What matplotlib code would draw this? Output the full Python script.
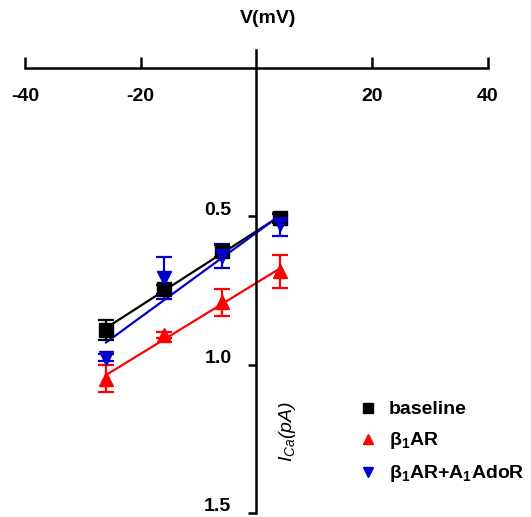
import numpy as np
import matplotlib
matplotlib.use("Agg")
import matplotlib.pyplot as plt
import matplotlib.transforms as mtransforms
from matplotlib.lines import Line2D

plt.rcParams['font.family'] = ['Liberation Sans', 'DejaVu Sans']
plt.rcParams['mathtext.fontset'] = 'custom'
plt.rcParams['mathtext.rm'] = 'Liberation Sans:bold'
plt.rcParams['mathtext.it'] = 'Liberation Sans:italic'
plt.rcParams['mathtext.bf'] = 'Liberation Sans:bold'

# Test potentials (mV)
voltage = [-26, -16, -6, 4]

# Peak I_Ca (pA) with SEM
baseline = [0.883, 0.745, 0.617, 0.507]
baseline_err = [0.035, 0.015, 0.02, 0.015]
b1ar = [1.047, 0.900, 0.790, 0.685]
b1ar_err = [0.045, 0.01, 0.045, 0.055]
b1ar_a1 = [0.977, 0.708, 0.634, 0.527]
b1ar_a1_err = [0.012, 0.07, 0.04, 0.04]

series = [
    ("baseline", baseline, baseline_err, "#000000", "s"),
    ("β$_1$AR", b1ar, b1ar_err, "#ff0000", "^"),
    ("β$_1$AR+A$_1$AdoR", b1ar_a1, b1ar_a1_err, "#0000c8", "v"),
]

x_ticks = [-40, -20, 20, 40]
y_ticks = [0.5, 1.0, 1.5]
y_tick_labels = ["0.5", "1.0", "1.5"]

FS = 14

fig = plt.figure(figsize=(5.31, 5.17), dpi=100)
ax = fig.add_axes([0.047, 0.0077, 0.872, 0.895])

v = np.array(voltage, dtype=float)
for label, vals, err, color, marker in series:
    vals = np.array(vals)
    slope, intercept = np.polyfit(v, vals, 1)
    xs = np.array([v.min(), v.max()])
    ax.plot(xs, slope * xs + intercept, color=color, lw=1.6, zorder=2)
    ax.errorbar(v, vals, yerr=err, fmt=marker, color=color, ms=10.5,
                capsize=5.5, elinewidth=1.6, capthick=1.6, zorder=3)

ax.set_xlim(-40, 40)
ax.set_ylim(1.5, -0.06)

# Axes cross at the origin
ax.spines['left'].set_position(('data', 0))
ax.spines['bottom'].set_position(('data', 0))
ax.spines['top'].set_visible(False)
ax.spines['right'].set_visible(False)
for s in ('left', 'bottom'):
    ax.spines[s].set_linewidth(1.8)

ax.set_xticks(x_ticks)
ax.set_xticklabels([str(t) for t in x_ticks])
ax.tick_params(axis='x', direction='in', length=8, width=1.8, pad=14,
               labelsize=FS)
ax.set_yticks(y_ticks)
ax.set_yticklabels(y_tick_labels)
ax.tick_params(axis='y', direction='out', length=6, width=1.8, pad=12,
               labelsize=FS)
for lab in ax.get_xticklabels() + ax.get_yticklabels():
    lab.set_fontweight('bold')

# Lift the y tick labels slightly above their ticks
lift = mtransforms.ScaledTranslation(0, 6 / 72, fig.dpi_scale_trans)
for lab in ax.get_yticklabels():
    lab.set_transform(lab.get_transform() + lift)

ax.text(5.4, 1.225, r"$\mathit{I}_{\mathit{Ca}}$(pA)", rotation=90,
        ha='center', va='center', fontsize=FS, fontstyle='italic')
fig.text(0.505, 0.965, "V(mV)", ha='center', va='center', fontsize=FS,
         fontweight='bold')

handles = [Line2D([], [], ls='none', marker=m, color=c, ms=7)
           for _, _, _, c, m in series]
leg = ax.legend(handles, [s[0] for s in series], loc='upper left',
                bbox_to_anchor=(0.69, 0.272), frameon=False,
                prop={'weight': 'bold', 'size': FS}, handletextpad=0.6,
                labelspacing=0.62, handlelength=1.0, borderpad=0.2)

fig.savefig("out.png", dpi=100)
